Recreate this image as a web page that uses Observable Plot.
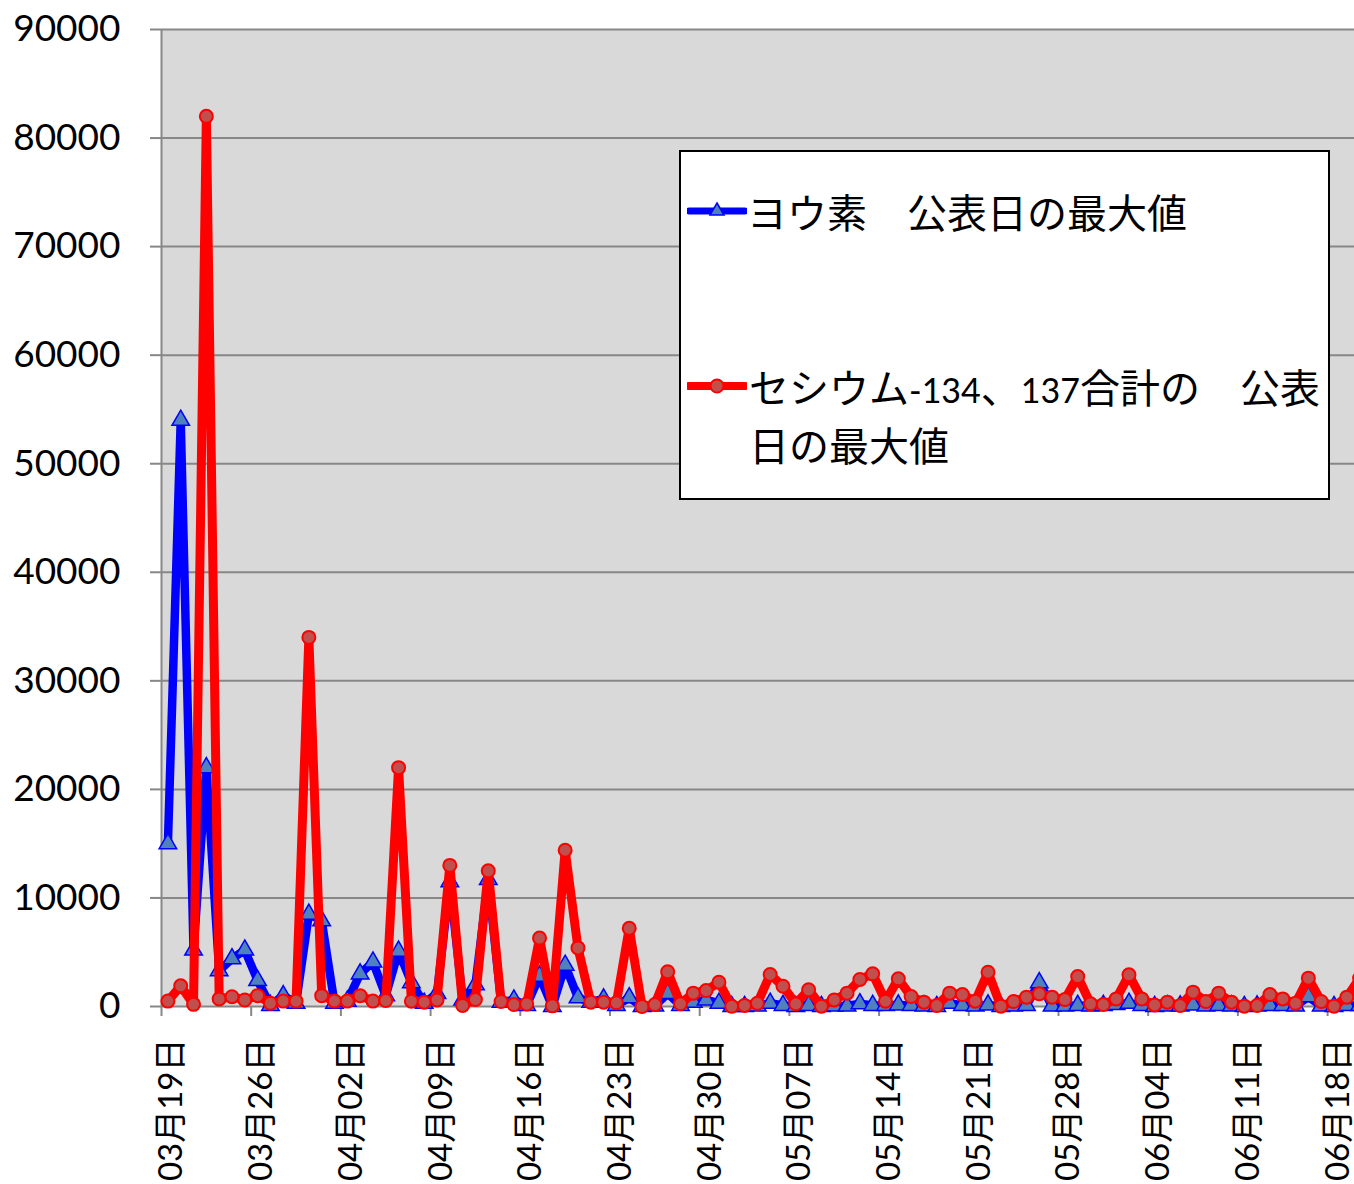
<!DOCTYPE html>
<html><head><meta charset="utf-8">
<script src="https://cdn.jsdelivr.net/npm/d3@7"></script>
<script src="https://cdn.jsdelivr.net/npm/@observablehq/plot@0.6"></script>
<style>
html,body{margin:0;padding:0;background:#fff;overflow:hidden}
#wrap{position:relative;width:1354px;height:1184px;overflow:hidden}
#wrap svg{overflow:hidden}
#legend{position:absolute;left:679px;top:150px;width:647px;height:346px;border:2px solid #000;background:#fff;font-family:"Noto Sans CJK JP",sans-serif;font-size:40px;color:#000}
#legend .sw{position:absolute;left:6px;width:60px;height:24px}
#legend .tx{position:absolute;line-height:54px;white-space:nowrap}
#legend .num{font-family:Lato,sans-serif;font-size:34px}
</style></head>
<body><div id="wrap"></div>
<script>
// daily categories 2011-03-19 .. 2011-06-20
const firstDay = "2011-03-19";
const dayCount = 94;
const seriesNames = ["ヨウ素　公表日の最大値", "セシウム-134、137合計の　公表\n日の最大値"];
const tickLabels = ["03月19日","03月26日","04月02日","04月09日","04月16日","04月23日","04月30日","05月07日","05月14日","05月21日","05月28日","06月04日","06月11日","06月18日"];
const yTicks = [0,10000,20000,30000,40000,50000,60000,70000,80000,90000];

const iodine = [
  // March 19-31
  15000, 54000, 5200, 22000, 3300, 4400, 5200, 2400, 100, 1000, 300, 8500, 7900,
  // April
  300, 500, 3000, 4100, 1000, 5100, 2200, 300, 1200, 11500, 600, 2000, 11700, 400, 600,
  100, 2800, 0, 3800, 800, 400, 700, 100, 800, 0, 50, 1200, 100, 400, 600,
  // May
  300, 0, 0, 50, 300, 100, 0, 100, 0, 50, 50, 250, 100, 100, 150, 100, 50, 0, 300, 100,
  50, 150, 0, 50, 100, 2200, 50, 50, 100, 50, 100,
  // June 1-20
  200, 300, 100, 0, 50, 50, 150, 50, 100, 50, 0, 50, 100, 100, 50, 900, 50, 0, 100, 100
];
const cesium = [
  // March 19-31
  500, 1900, 200, 82000, 700, 900, 600, 1000, 300, 500, 500, 34000, 1000,
  // April
  500, 500, 1000, 500, 550, 22000, 490, 400, 610, 13000, 100, 640, 12500, 460, 180,
  230, 6300, 60, 14400, 5400, 400, 400, 340, 7200, 0, 180, 3200, 250, 1230, 1470,
  // May
  2240, 20, 100, 300, 2950, 1870, 250, 1540, 30, 610, 1230, 2490, 3010, 490, 2550, 920,
  400, 90, 1230, 1100, 490, 3160, 30, 460, 860, 1170, 860, 640, 2760, 250, 180,
  // June 1-20
  700, 2920, 700, 140, 400, 90, 1320, 460, 1230, 400, 30, 90, 1100, 700, 300, 2610, 460, 30, 860, 2600
];

const DAY = 864e5;
const start = new Date(firstDay + "T00:00:00Z");
const dates = d3.utcDay.range(start, d3.utcDay.offset(start, dayCount));
const rows = dates.map((d, i) => ({date: d, iodine: iodine[i], cesium: cesium[i]}));
const tickDates = tickLabels.map((_, i) => dates[i * 7]);
const labelMap = new Map(tickDates.map((d, i) => [+d, tickLabels[i]]));
const boundaryDates = tickDates.map(d => new Date(+d - DAY / 2));

const font = 'Lato, "Noto Sans CJK JP", sans-serif';
const grid = "#878787";

const chart = Plot.plot({
  width: 1354, height: 1184,
  marginLeft: 161, marginRight: 0, marginTop: 29, marginBottom: 178,
  style: {fontFamily: font, color: "#000", background: "#fff"},
  x: {type: "utc", domain: [new Date(+start - DAY / 2), new Date(+start - DAY / 2 + 93.1 * DAY)]},
  y: {domain: [0, 90000]},
  marks: [
    Plot.frame({fill: "#d9d9d9", stroke: null}),
    Plot.ruleY(yTicks, {stroke: grid, strokeWidth: 2}),
    Plot.ruleX([new Date(+start - DAY / 2)], {stroke: grid, strokeWidth: 2}),
    Plot.axisY({ticks: yTicks, tickSize: 11, tickPadding: 30, fontSize: 37, stroke: grid, strokeWidth: 2, tickFormat: d => String(d), label: null}),
    Plot.axisX({ticks: boundaryDates, tickSize: 10, tickFormat: () => "", stroke: grid, strokeWidth: 2, label: null}),
    Plot.axisX({ticks: tickDates, tickSize: 0, tickPadding: 32, tickRotate: -90, fontSize: 33, dx: 4, tickFormat: d => labelMap.get(+d), label: null}),
    Plot.line(rows, {x: "date", y: "iodine", stroke: "#0000ff", strokeWidth: 8.5, strokeLinejoin: "round", strokeLinecap: "round"}),
    Plot.dot(rows, {x: "date", y: "iodine", symbol: "triangle", r: 6.5, fill: "#4f81bd", stroke: "#0000ff", strokeWidth: 1.5}),
    Plot.line(rows, {x: "date", y: "cesium", stroke: "#ff0000", strokeWidth: 9, strokeLinejoin: "round", strokeLinecap: "round"}),
    Plot.dot(rows, {x: "date", y: "cesium", r: 6.5, fill: "#c0504d", stroke: "#ff0000", strokeWidth: 2})
  ]
});
const wrap = document.getElementById("wrap");
wrap.appendChild(chart);

// legend inside the plot area
const legend = document.createElement("div");
legend.id = "legend";
const tri = '<polygon points="30,4 37,16 23,16" fill="#4f81bd" stroke="#0000ff" stroke-width="1.5"/>';
const cir = '<circle cx="30" cy="12" r="6.5" fill="#c0504d" stroke="#ff0000" stroke-width="2"/>';
const fmtName = s => s.replace(/([-0-9]+)/g, '<span class="num">$1</span>').replace("\n", "<br>");
legend.innerHTML =
  `<svg class="sw" style="top:47px" viewBox="0 0 60 24"><line x1="2" y1="12" x2="58" y2="12" stroke="#0000ff" stroke-width="7" stroke-linecap="round"/>${tri}</svg>` +
  `<div class="tx" style="left:66px;top:32px">${fmtName(seriesNames[0])}</div>` +
  `<svg class="sw" style="top:222px" viewBox="0 0 60 24"><line x1="2" y1="12" x2="58" y2="12" stroke="#ff0000" stroke-width="8" stroke-linecap="round"/>${cir}</svg>` +
  `<div class="tx" style="left:68px;top:207px">${fmtName(seriesNames[1])}</div>`;
wrap.appendChild(legend);
</script>
</body></html>
